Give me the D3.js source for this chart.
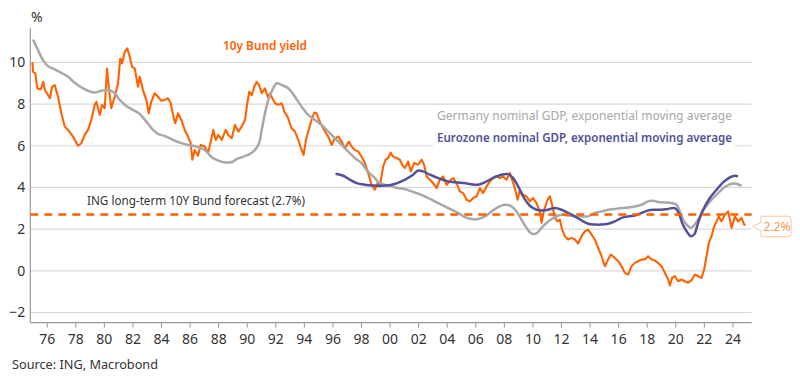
<!DOCTYPE html>
<html>
<head>
<meta charset="utf-8">
<script src="https://cdn.jsdelivr.net/npm/d3@7"></script>
<style>
  body { margin: 0; background: #fff; }
  svg text { font-family: "Noto Sans", "Open Sans", sans-serif; }
</style>
</head>
<body>
<div id="vis"></div>
<script>
// 10y Bund yield, [decimal year, %]
const bundYield = [
  [1975.0,10.0],[1975.04,9.55],[1975.2,9.47],[1975.34,8.75],[1975.58,8.7],[1975.76,9.07],[1975.86,8.7],
  [1976.09,8.43],[1976.23,8.28],[1976.37,8.83],[1976.56,8.91],[1976.79,8.35],[1977.02,7.56],[1977.26,6.92],
  [1977.49,6.76],[1977.84,6.44],[1978.19,6.0],[1978.42,6.12],[1978.66,6.52],[1978.89,6.76],[1979.12,7.24],
  [1979.36,7.96],[1979.47,8.11],[1979.71,7.48],[1979.87,7.96],[1980.06,7.8],[1980.22,9.71],[1980.34,8.83],
  [1980.52,7.8],[1980.76,8.35],[1980.99,9.0],[1981.15,10.19],[1981.27,9.95],[1981.46,10.5],[1981.64,10.67],
  [1981.81,10.27],[1981.97,9.79],[1982.16,9.71],[1982.39,8.83],[1982.51,9.31],[1982.74,8.67],[1982.97,8.2],
  [1983.14,7.56],[1983.32,8.11],[1983.56,8.52],[1983.79,8.35],[1984.02,8.16],[1984.26,8.2],[1984.49,8.28],
  [1984.68,8.04],[1984.84,7.48],[1985.0,7.08],[1985.19,7.56],[1985.42,7.24],[1985.66,6.76],[1985.89,6.44],
  [1986.08,6.12],[1986.19,5.33],[1986.36,5.8],[1986.59,5.52],[1986.78,6.04],[1987.06,5.96],[1987.29,5.65],
  [1987.43,6.04],[1987.66,6.76],[1987.83,6.28],[1988.01,6.52],[1988.25,6.28],[1988.53,6.76],[1988.71,6.52],
  [1988.95,6.36],[1989.18,7.0],[1989.41,6.68],[1989.65,6.92],[1989.88,7.24],[1990.04,8.04],[1990.18,8.59],
  [1990.35,8.43],[1990.53,8.83],[1990.7,9.07],[1990.86,8.91],[1991.05,8.52],[1991.28,8.75],[1991.47,8.35],
  [1991.63,8.52],[1991.79,8.28],[1991.98,8.04],[1992.21,7.96],[1992.45,8.04],[1992.63,7.64],[1992.86,7.4],
  [1993.14,6.84],[1993.38,6.68],[1993.61,6.28],[1993.8,5.88],[1993.98,5.56],[1994.15,6.28],[1994.31,6.68],
  [1994.54,7.24],[1994.73,7.59],[1994.89,7.56],[1995.06,7.24],[1995.24,7.0],[1995.48,6.68],[1995.71,6.44],
  [1995.94,6.04],[1996.17,6.36],[1996.41,6.44],[1996.64,6.2],[1996.87,5.88],[1997.15,6.2],[1997.34,5.96],
  [1997.57,5.8],[1997.81,5.72],[1998.04,5.48],[1998.27,5.17],[1998.5,4.69],[1998.74,4.13],[1998.97,3.89],
  [1999.16,4.21],[1999.32,4.05],[1999.55,5.0],[1999.72,5.33],[1999.9,5.41],[2000.07,5.67],[2000.25,5.48],
  [2000.49,5.41],[2000.72,5.33],[2000.88,5.09],[2001.07,4.93],[2001.3,5.24],[2001.49,4.77],[2001.72,5.17],
  [2002.0,5.09],[2002.24,5.33],[2002.42,5.09],[2002.59,4.53],[2002.82,4.37],[2003.05,4.21],[2003.29,3.97],
  [2003.52,4.37],[2003.75,4.53],[2003.99,4.13],[2004.29,4.37],[2004.45,4.45],[2004.69,4.21],[2004.92,3.81],
  [2005.15,3.73],[2005.39,3.41],[2005.62,3.33],[2005.85,3.49],[2006.09,3.57],[2006.32,3.97],[2006.55,3.73],
  [2006.79,4.05],[2007.02,4.29],[2007.25,4.45],[2007.49,4.53],[2007.72,4.45],[2007.95,4.53],[2008.19,4.37],
  [2008.42,4.69],[2008.58,4.37],[2008.77,3.97],[2008.96,3.41],[2009.12,3.89],[2009.35,3.65],[2009.59,3.57],
  [2009.82,3.33],[2010.05,3.49],[2010.29,3.25],[2010.52,2.85],[2010.64,2.3],[2010.82,2.93],[2011.06,3.41],
  [2011.22,3.57],[2011.38,3.17],[2011.57,2.54],[2011.76,2.37],[2011.92,2.45],[2012.08,1.98],[2012.27,1.66],
  [2012.5,1.5],[2012.74,1.58],[2012.97,1.5],[2013.2,1.31],[2013.44,1.66],[2013.67,1.89],[2013.9,1.98],
  [2014.14,1.74],[2014.37,1.5],[2014.6,1.1],[2014.84,0.7],[2015.07,0.22],[2015.3,0.54],[2015.49,0.78],
  [2015.77,0.62],[2016.0,0.46],[2016.24,0.22],[2016.47,-0.1],[2016.7,-0.18],[2016.94,0.22],[2017.17,0.38],
  [2017.4,0.46],[2017.64,0.54],[2017.87,0.54],[2018.1,0.7],[2018.34,0.54],[2018.57,0.49],[2018.8,0.38],
  [2019.04,0.22],[2019.27,-0.1],[2019.5,-0.42],[2019.62,-0.7],[2019.78,-0.34],[2019.97,-0.26],[2020.2,-0.5],
  [2020.44,-0.42],[2020.67,-0.5],[2020.9,-0.57],[2021.14,-0.45],[2021.37,-0.18],[2021.6,-0.26],[2021.84,-0.34],
  [2022.02,0.06],[2022.19,0.7],[2022.35,1.34],[2022.54,1.66],[2022.72,2.13],[2022.89,2.37],[2023.05,2.61],
  [2023.24,2.37],[2023.47,2.69],[2023.7,2.85],[2023.94,2.06],[2024.17,2.61],[2024.4,2.37],[2024.64,2.54],
  [2024.82,2.22],[2024.92,2.2]
];

// Germany nominal GDP, exponential moving average
const germanyGdp = [
  [1975.04,11.1],[1975.39,10.59],[1975.74,10.11],[1976.09,9.82],[1976.56,9.66],[1977.02,9.5],[1977.49,9.31],
  [1977.96,9.02],[1978.42,8.8],[1978.89,8.64],[1979.36,8.55],[1979.82,8.64],[1980.29,8.67],[1980.71,8.55],
  [1981.11,8.2],[1981.57,7.91],[1982.04,7.72],[1982.51,7.53],[1982.97,7.16],[1983.44,6.76],[1983.79,6.57],
  [1984.26,6.47],[1984.72,6.32],[1985.31,6.15],[1985.89,6.04],[1986.47,5.96],[1987.06,5.8],[1987.55,5.45],
  [1988.01,5.29],[1988.48,5.2],[1988.95,5.22],[1989.3,5.36],[1989.76,5.48],[1990.23,5.61],[1990.58,5.8],
  [1990.86,6.12],[1991.05,6.76],[1991.28,7.56],[1991.51,8.2],[1991.79,8.67],[1992.1,9.0],[1992.45,8.91],
  [1992.91,8.76],[1993.38,8.35],[1993.84,7.88],[1994.31,7.48],[1994.78,7.24],[1995.24,7.0],[1995.71,6.68],
  [1996.17,6.36],[1996.64,6.04],[1997.11,5.72],[1997.57,5.41],[1998.04,5.17],[1998.5,4.75],[1998.97,4.45],
  [1999.2,4.26],[1999.67,4.13],[2000.14,4.05],[2000.6,3.97],[2001.07,3.92],[2001.54,3.81],[2002.0,3.7],
  [2002.47,3.57],[2002.94,3.41],[2003.4,3.25],[2003.87,3.09],[2004.34,2.93],[2004.8,2.78],[2005.27,2.58],
  [2005.74,2.49],[2006.2,2.49],[2006.67,2.61],[2007.14,2.85],[2007.6,3.06],[2008.07,3.17],[2008.54,3.09],
  [2008.89,2.85],[2009.24,2.45],[2009.59,2.06],[2009.94,1.78],[2010.29,1.8],[2010.64,2.06],[2011.1,2.37],
  [2011.57,2.58],[2012.04,2.69],[2012.5,2.65],[2012.97,2.61],[2013.44,2.61],[2013.9,2.61],[2014.37,2.78],
  [2014.84,2.85],[2015.3,2.93],[2015.77,2.97],[2016.24,3.01],[2016.7,3.04],[2017.17,3.09],[2017.64,3.17],
  [2018.1,3.33],[2018.45,3.36],[2018.8,3.3],[2019.27,3.28],[2019.74,3.25],[2020.09,3.17],[2020.32,2.85],
  [2020.55,2.45],[2020.79,2.22],[2021.09,2.06],[2021.37,2.22],[2021.72,2.61],[2022.07,3.01],[2022.54,3.41],
  [2023.0,3.73],[2023.47,4.02],[2023.94,4.18],[2024.29,4.18],[2024.64,4.08]
];

// Eurozone nominal GDP, exponential moving average
const eurozoneGdp = [
  [1996.22,4.66],[1996.76,4.56],[1997.22,4.37],[1997.69,4.21],[1998.27,4.13],[1998.85,4.09],[1999.2,4.08],
  [2000.14,4.13],[2000.84,4.29],[2001.54,4.56],[2002.0,4.81],[2002.35,4.77],[2002.82,4.61],[2003.4,4.45],
  [2004.1,4.29],[2004.8,4.24],[2005.5,4.18],[2006.2,4.13],[2006.79,4.29],[2007.37,4.5],[2007.84,4.61],
  [2008.3,4.64],[2008.65,4.45],[2009.0,4.05],[2009.35,3.57],[2009.82,3.12],[2010.29,2.93],[2010.87,2.9],
  [2011.57,3.01],[2012.04,2.93],[2012.5,2.78],[2012.97,2.61],[2013.44,2.42],[2013.9,2.26],[2014.37,2.22],
  [2014.84,2.22],[2015.3,2.26],[2015.77,2.37],[2016.24,2.54],[2016.7,2.61],[2017.17,2.65],[2017.64,2.78],
  [2018.1,2.9],[2018.57,2.93],[2019.04,2.93],[2019.5,2.97],[2019.97,3.01],[2020.25,2.78],[2020.48,2.3],
  [2020.79,1.9],[2021.09,1.66],[2021.32,1.74],[2021.6,2.3],[2021.95,2.93],[2022.42,3.49],[2022.89,3.89],
  [2023.35,4.24],[2023.82,4.48],[2024.17,4.56],[2024.4,4.53]
];

const forecast = 2.7;
const yTicks = [-2, 0, 2, 4, 6, 8, 10];
const xTicks = d3.range(1976, 2025, 2);
const labels = {
  bund: "10y Bund yield",
  germany: "Germany nominal GDP, exponential moving average",
  eurozone: "Eurozone nominal GDP, exponential moving average",
  forecast: "ING long-term 10Y Bund forecast (2.7%)",
  unit: "%",
  source: "Source: ING, Macrobond"
};

const ctx = {
  w: 800,
  h: 384,
  left: 30.3,
  right: 751.7,
  top: 28,
  bottom: 322.7,
  orange: "#ff6200",
  grey: "#a8a8a8",
  navy: "#525199",
  grid: "#d9d9d9",
  text: "#333333"
};

function addText(svg, txt, x, y, size, color, weight, len) {
  let t = svg.append("text")
    .attr("x", x).attr("y", y)
    .style("font-size", size + "px")
    .style("font-weight", weight)
    .style("fill", color)
    .text(txt);
  if (len) {
    t.attr("textLength", len).attr("lengthAdjust", "spacingAndGlyphs");
  }
  return t;
}

function createViz() {
  const svg = d3.select("#vis").append("svg")
      .attr("width", ctx.w)
      .attr("height", ctx.h);

  const xScale = d3.scaleLinear()
      .domain([1974.85, 2025.35])
      .range([ctx.left, ctx.right]);
  const yScale = d3.scaleLinear()
      .domain([-2.49, 11.65])
      .range([ctx.bottom, ctx.top]);

  // gridlines
  svg.append("g").selectAll("line")
    .data(yTicks)
    .enter()
    .append("line")
    .attr("x1", ctx.left)
    .attr("x2", ctx.right)
    .attr("y1", d => yScale(d))
    .attr("y2", d => yScale(d))
    .style("stroke", ctx.grid)
    .style("stroke-width", 1.2);

  // y axis labels
  const yAxis = svg.append("g")
      .attr("transform", `translate(${ctx.left},0)`)
      .call(d3.axisLeft(yScale).tickValues(yTicks).tickSize(0).tickPadding(5).tickFormat(d3.format("d")));
  yAxis.select(".domain").remove();
  yAxis.selectAll("text")
    .style("font-size", "14px")
    .style("fill", ctx.text)
    .style("font-family", "'Noto Sans', sans-serif");

  svg.append("line")
    .attr("x1", ctx.left).attr("x2", ctx.left)
    .attr("y1", ctx.top).attr("y2", ctx.bottom)
    .style("stroke", "#999")
    .style("stroke-width", 1.2);

  // x axis
  const xAxis = svg.append("g")
      .attr("transform", `translate(0,${ctx.bottom})`)
      .call(d3.axisBottom(xScale).tickValues(xTicks).tickSize(5).tickPadding(6)
        .tickFormat(d => String(d % 100).padStart(2, "0")));
  xAxis.select(".domain")
    .attr("d", `M${ctx.left},0H${ctx.right}`)
    .style("stroke", "#999")
    .style("stroke-width", 1.2);
  xAxis.selectAll(".tick line").style("stroke", "#999");
  xAxis.selectAll("text")
    .style("font-size", "14px")
    .style("fill", ctx.text)
    .style("font-family", "'Noto Sans', sans-serif");

  // white box behind the GDP labels
  svg.append("rect")
    .attr("x", 433)
    .attr("y", 106)
    .attr("width", 302)
    .attr("height", 42)
    .style("fill", "#fff");

  const line = d3.line()
      .x(d => xScale(d[0]))
      .y(d => yScale(d[1]));
  const smooth = d3.line()
      .curve(d3.curveCatmullRom)
      .x(d => xScale(d[0]))
      .y(d => yScale(d[1]));

  svg.append("path")
    .datum(bundYield)
    .attr("d", line)
    .style("fill", "none")
    .style("stroke", ctx.orange)
    .style("stroke-width", 2.1)
    .style("stroke-linejoin", "round");

  svg.append("path")
    .datum(germanyGdp)
    .attr("d", smooth)
    .style("fill", "none")
    .style("stroke", ctx.grey)
    .style("stroke-width", 2.5);

  svg.append("path")
    .datum(eurozoneGdp)
    .attr("d", smooth)
    .style("fill", "none")
    .style("stroke", ctx.navy)
    .style("stroke-width", 2.5);

  // forecast line
  svg.append("line")
    .attr("x1", ctx.left)
    .attr("x2", ctx.right)
    .attr("y1", yScale(forecast))
    .attr("y2", yScale(forecast))
    .style("stroke", ctx.orange)
    .style("stroke-width", 2.5)
    .style("stroke-dasharray", "8,6");

  // texts
  addText(svg, labels.unit, 31, 22, 14, ctx.text, 400);
  addText(svg, labels.bund, 223, 50, 12.5, ctx.orange, 600, 84);
  addText(svg, labels.germany, 437, 120, 12.5, ctx.grey, 400, 295);
  addText(svg, labels.eurozone, 437, 141.5, 12.5, ctx.navy, 600, 295);
  addText(svg, labels.forecast, 87, 205, 12, ctx.text, 400, 218);
  addText(svg, labels.source, 12, 369, 13, ctx.text, 400, 146);

  // last value callout
  const last = bundYield[bundYield.length - 1];
  const cy = yScale(last[1]) + 1.5;
  const bx = 761, bw = 30, bh = 20.5;
  const callout = svg.append("g");
  callout.append("path")
    .attr("d", `M${bx},${cy - bh / 2} H${bx + bw - 3} Q${bx + bw},${cy - bh / 2} ${bx + bw},${cy - bh / 2 + 3}
                V${cy + bh / 2 - 3} Q${bx + bw},${cy + bh / 2} ${bx + bw - 3},${cy + bh / 2} H${bx}
                V${cy + 4} L${bx - 8.5},${cy} L${bx},${cy - 4} Z`)
    .style("fill", "#fff")
    .style("stroke", "#fbc79c")
    .style("stroke-width", 1);
  callout.append("text")
    .attr("x", bx + bw / 2 + 1)
    .attr("y", cy + 4.5)
    .style("text-anchor", "middle")
    .style("font-size", "12px")
    .style("fill", "#f59a52")
    .text(`${d3.format(".1f")(last[1])}%`);
}

createViz();
</script>
</body>
</html>
